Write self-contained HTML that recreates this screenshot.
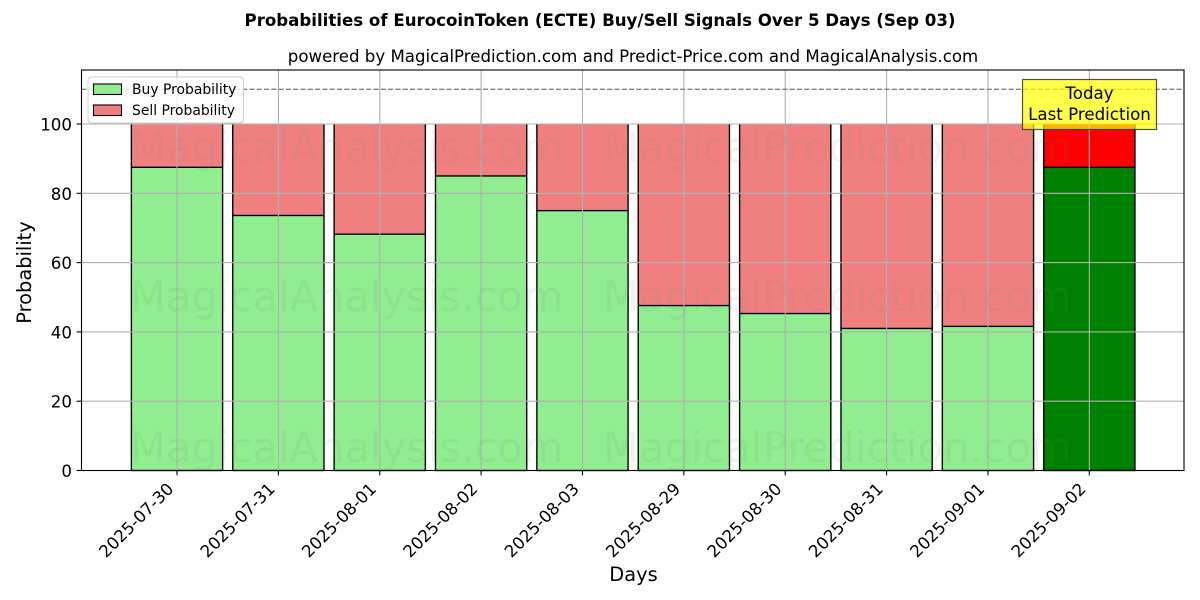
<!DOCTYPE html>
<html>
<head>
<meta charset="utf-8">
<title>Probabilities of EurocoinToken (ECTE) Buy/Sell Signals</title>
<style>
html,body{margin:0;padding:0;background:#fff;}
svg{display:block;font-family:"DejaVu Sans","Liberation Sans",sans-serif;}
</style>
</head>
<body>
<svg id="chart" xmlns="http://www.w3.org/2000/svg" width="1200" height="600" viewBox="0 0 1200 600">
  <rect x="0" y="0" width="1200" height="600" fill="#fff"/>
  <text x="600" y="26" text-anchor="middle" font-size="16.63" font-weight="bold">Probabilities of EurocoinToken (ECTE) Buy/Sell Signals Over 5 Days (Sep 03)</text>
  <text x="633" y="62" text-anchor="middle" font-size="16.63">powered by MagicalPrediction.com and Predict-Price.com and MagicalAnalysis.com</text>
  <g id="bars"></g>
  <g id="grid"></g>
  <line id="ref-line" stroke="#808080" stroke-width="1.39" stroke-dasharray="5.1 2.2"/>
  <g font-size="41.67" fill="#808080" fill-opacity="0.1">
    <text x="130" y="162">MagicalAnalysis.com</text>
    <text x="603" y="162">MagicalPrediction.com</text>
    <text x="130" y="311">MagicalAnalysis.com</text>
    <text x="603" y="311">MagicalPrediction.com</text>
    <text x="130" y="462">MagicalAnalysis.com</text>
    <text x="603" y="462">MagicalPrediction.com</text>
  </g>
  <g fill="none" stroke="#000" stroke-width="1.1">
    <rect x="81.5" y="70" width="1102.5" height="400.5"/>
  </g>
  <g id="ticks"></g>
  <text x="633.5" y="581" text-anchor="middle" font-size="19.4">Days</text>
  <text transform="translate(31 272.5) rotate(-90)" text-anchor="middle" font-size="19.4">Probability</text>
  <g>
    <rect x="88" y="77" width="155.5" height="46" rx="3" fill="#fff" fill-opacity="0.8" stroke="#cccccc" stroke-width="1"/>
    <rect x="93.5" y="84" width="28" height="10.5" fill="#90ee90" stroke="#000" stroke-width="1.1"/>
    <text x="132" y="94" font-size="13.9">Buy Probability</text>
    <rect x="93.5" y="105" width="28" height="10.5" fill="#f08080" stroke="#000" stroke-width="1.1"/>
    <text x="132" y="115" font-size="13.9">Sell Probability</text>
  </g>
  <g>
    <rect x="1022.5" y="79.5" width="134" height="50" fill="#ffff00" fill-opacity="0.7" stroke="#333" stroke-opacity="0.85" stroke-width="1.2"/>
    <text x="1089.5" y="99" text-anchor="middle" font-size="16.67">Today</text>
    <text x="1089.5" y="120" text-anchor="middle" font-size="16.67">Last Prediction</text>
  </g>
</svg>
<script>
var categories = ["2025-07-30","2025-07-31","2025-08-01","2025-08-02","2025-08-03","2025-08-29","2025-08-30","2025-08-31","2025-09-01","2025-09-02"];
var buyValues = [87.5,73.6,68.2,85,75,47.6,45.3,41,41.6,87.5];
var sellValues = [12.5,26.4,31.8,15,25,52.4,54.7,59,58.4,12.5];
var yTickValues = [0,20,40,60,80,100];
var referenceValue = 110;

var NS = "http://www.w3.org/2000/svg";
function xScale(i){ return 177 + i * 101.37; }
function yScale(v){ return 470.5 - v * 3.465; }
var bandWidth = 0.9 * 101.37;

function make(tag, attrs, parent, text){
  var el = document.createElementNS(NS, tag);
  for (var k in attrs) el.setAttribute(k, attrs[k]);
  if (text !== undefined) el.textContent = text;
  parent.appendChild(el);
  return el;
}

var barsG = document.getElementById("bars");
var gridG = document.getElementById("grid");
var ticksG = document.getElementById("ticks");

categories.forEach(function(cat, i){
  var last = i === categories.length - 1;
  var x = xScale(i) - bandWidth / 2;
  var buyTop = yScale(buyValues[i]);
  var sellTop = yScale(buyValues[i] + sellValues[i]);

  var sell = make("rect", {x:x, y:sellTop, width:bandWidth, height:buyTop - sellTop, fill:last ? "#ff0000" : "#f08080"}, barsG);
  
  

  var sellEdge = make("path", {d:"M" + x + " " + sellTop + "V" + buyTop + "M" + (x + bandWidth) + " " + buyTop + "V" + sellTop, fill:"none", stroke:"#000", "stroke-width":1.39}, barsG);
  
  

  var buy = make("rect", {x:x, y:buyTop, width:bandWidth, height:yScale(0) - buyTop, fill:last ? "#008000" : "#90ee90", stroke:"#000", "stroke-width":1.39}, barsG);
  
  

  var gl = make("line", {x1:xScale(i), x2:xScale(i), y1:70, y2:470.5, stroke:"#b0b0b0", "stroke-width":1.1}, gridG);
  
  

  var tk = make("line", {x1:xScale(i), x2:xScale(i), y1:470.5, y2:475.4, stroke:"#000", "stroke-width":1.1}, ticksG);
  
  

  var lx = xScale(i) - 2.5, ly = 490;
  var lb = make("text", {x:0, y:0, "text-anchor":"end", "font-size":16.67, transform:"translate(" + lx + " " + ly + ") rotate(-45)"}, ticksG, cat);
  
  
});

yTickValues.forEach(function(v){
  var y = yScale(v);
  var gl = make("line", {x1:81.5, x2:1184, y1:y, y2:y, stroke:"#b0b0b0", "stroke-width":1.1}, gridG);
  
  

  var tk = make("line", {x1:76.6, x2:81.5, y1:y, y2:y, stroke:"#000", "stroke-width":1.1}, ticksG);
  
  

  var lb = make("text", {x:72, y:y + 6.5, "text-anchor":"end", "font-size":16.67}, ticksG, String(v));
  
  
});

var ref = document.getElementById("ref-line");
ref.setAttribute("x1", 81.5);
ref.setAttribute("x2", 1184);
ref.setAttribute("y1", yScale(referenceValue));
ref.setAttribute("y2", yScale(referenceValue));
</script>
</body>
</html>
